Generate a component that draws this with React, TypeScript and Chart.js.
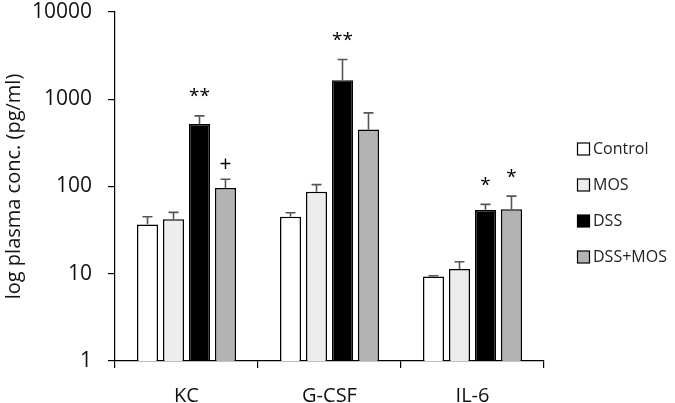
import React, { useEffect, useRef } from 'react';
import { Chart, registerables } from 'chart.js';

Chart.register(...registerables);

const categories = ['KC', 'G-CSF', 'IL-6'];
const seriesNames = ['Control', 'MOS', 'DSS', 'DSS+MOS'];
const controlValues = [36.8, 45, 9.3];
const controlUpper = [45, 50, 9.5];
const mosValues = [42, 87, 11.3];
const mosUpper = [50.5, 105, 13.7];
const dssValues = [519, 1655, 53.7];
const dssUpper = [645, 2860, 62.4];
const dssMosValues = [96, 451, 55];
const dssMosUpper = [121, 698, 77.6];
const controlSig = ['', '', ''];
const mosSig = ['', '', ''];
const dssSig = ['**', '**', '*'];
const dssMosSig = ['+', '', '*'];
const yTicks = [1, 10, 100, 1000, 10000];

const seriesColors = ['#FFFFFF', '#EDEDED', '#000000', '#B3B3B3'];
const FONT = '"Open Sans", "DejaVu Sans", sans-serif';

const errorBarPlugin = {
  id: 'errorBars',
  afterDatasetsDraw(chart: any) {
    const ctx = chart.ctx;
    const yScale = chart.scales.y;
    chart.data.datasets.forEach((ds: any, i: number) => {
      const meta = chart.getDatasetMeta(i);
      meta.data.forEach((el: any, j: number) => {
        const upper = ds.errorUpper[j];
        const yErr = yScale.getPixelForValue(upper);
        const x = el.x;
        ctx.save();
        ctx.strokeStyle = '#555555';
        ctx.lineWidth = 1.6;
        ctx.beginPath();
        ctx.moveTo(x, el.y);
        ctx.lineTo(x, yErr);
        ctx.moveTo(x - 5, yErr);
        ctx.lineTo(x + 5, yErr);
        ctx.stroke();
        const s = ds.sig[j];
        if (s) {
          ctx.fillStyle = '#000000';
          ctx.textAlign = 'center';
          ctx.textBaseline = 'middle';
          ctx.font = `${s === '+' ? 21 : 19}px ${FONT}`;
          const off = s === '+' ? 14 : 19;
          ctx.fillText(s, x, yErr - off);
        }
        ctx.restore();
      });
    });
  },
};

const legendPlugin = {
  id: 'customLegend',
  afterDraw(chart: any) {
    const ctx = chart.ctx;
    ctx.save();
    chart.data.datasets.forEach((ds: any, i: number) => {
      const cy = 149 + i * 36;
      ctx.fillStyle = ds.backgroundColor;
      ctx.fillRect(577.5, cy - 6, 12, 12);
      ctx.strokeStyle = '#000000';
      ctx.lineWidth = 1.2;
      ctx.strokeRect(577.5, cy - 6, 12, 12);
      ctx.fillStyle = '#222222';
      ctx.font = `16px ${FONT}`;
      ctx.textAlign = 'left';
      ctx.textBaseline = 'middle';
      ctx.fillText(ds.label, 593, cy);
    });
    ctx.restore();
  },
};

export default function App() {
  const canvasRef = useRef<HTMLCanvasElement | null>(null);

  useEffect(() => {
    const canvas = canvasRef.current;
    if (!canvas) return;
    const values = [controlValues, mosValues, dssValues, dssMosValues];
    const uppers = [controlUpper, mosUpper, dssUpper, dssMosUpper];
    const sigs = [controlSig, mosSig, dssSig, dssMosSig];
    const chart = new Chart(canvas, {
      type: 'bar',
      data: {
        labels: categories,
        datasets: seriesNames.map((name, i) => ({
          label: name,
          data: values[i],
          errorUpper: uppers[i],
          sig: sigs[i],
          backgroundColor: seriesColors[i],
          borderColor: '#000000',
          borderWidth: 1.5,
          categoryPercentage: 0.727,
          barPercentage: 0.81,
        })) as any,
      },
      options: {
        responsive: false,
        animation: false,
        layout: { padding: { top: 0, right: 131, left: 0, bottom: 0 } },
        plugins: {
          legend: { display: false },
          tooltip: { enabled: false },
        },
        scales: {
          x: {
            grid: {
              display: true,
              drawOnChartArea: false,
              drawTicks: true,
              tickLength: 7,
              color: '#000000',
              lineWidth: 1.2,
              offset: true,
            },
            border: { display: true, color: '#000000', width: 1.2 },
            ticks: {
              padding: 16,
              color: '#111111',
              font: { family: FONT, size: 20 },
            },
            afterFit(scale: any) {
              scale.height = 42;
            },
          },
          y: {
            type: 'logarithmic',
            min: 1,
            max: 10000,
            afterBuildTicks(scale: any) {
              scale.ticks = yTicks.map((v) => ({ value: v, major: true }));
            },
            afterFit(scale: any) {
              scale.width = 115;
              scale.paddingTop = 12;
            },
            grid: {
              display: true,
              drawOnChartArea: false,
              drawTicks: true,
              tickLength: 7,
              color: '#000000',
              lineWidth: 1.2,
            },
            border: { display: true, color: '#000000', width: 1.2 },
            ticks: {
              padding: 16,
              color: '#111111',
              font: { family: FONT, size: 21 },
              callback: (v: any) => String(v),
            },
            title: {
              display: true,
              text: 'log plasma conc. (pg/ml)',
              color: '#111111',
              font: { family: FONT, size: 20 },
              padding: { top: 2, bottom: 0 },
            },
          },
        },
      },
      plugins: [errorBarPlugin, legendPlugin],
    } as any);
    return () => chart.destroy();
  }, []);

  return (
    <div style={{ position: 'absolute', left: 0, top: 0, width: 675, height: 403, background: '#ffffff' }}>
      <canvas ref={canvasRef} width={675} height={403} style={{ display: 'block' }} />
    </div>
  );
}
